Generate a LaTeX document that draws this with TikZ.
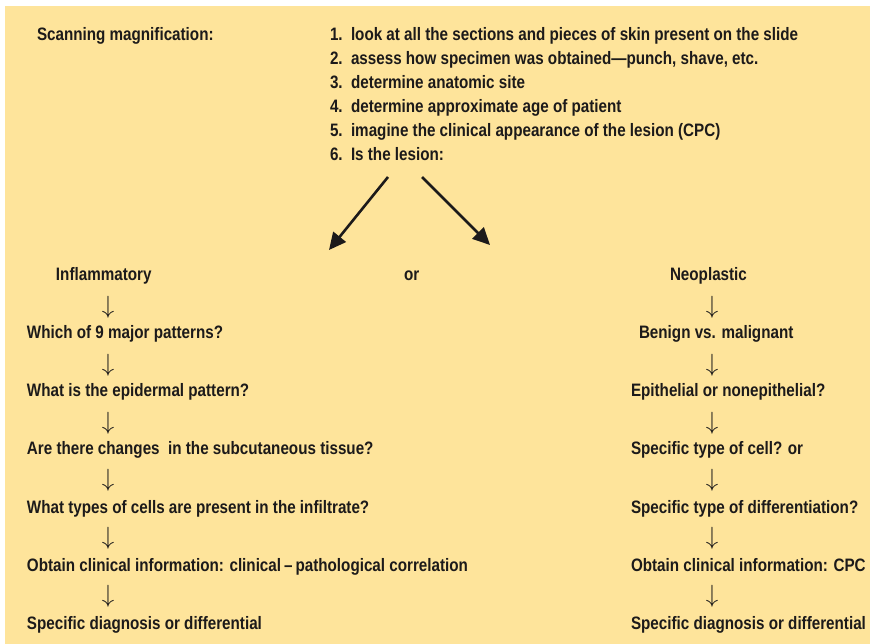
\documentclass[tikz,border=0pt]{standalone}
\usepackage{fontspec}
\setmainfont{Liberation Sans}[FakeStretch=0.845]
\usetikzlibrary{arrows.meta}
\definecolor{bgyellow}{RGB}{254,228,155}
\definecolor{ink}{RGB}{28,26,26}
\tikzset{
  txt/.style={anchor=base west, inner sep=0pt, outer sep=0pt, text=ink, font=\fontsize{18}{21}\selectfont\bfseries},
  down/.style={anchor=center, inner sep=0pt, text=ink, font=\fontsize{23}{26}\selectfont},
  bigarrow/.style={draw=ink, line width=2.6pt, -{Triangle[length=17pt,width=16pt]}}
}
\begin{document}
\begin{tikzpicture}[x=1pt,y=-1pt]
\useasboundingbox (0,0) rectangle (871,644);
\fill[bgyellow] (5,6) rectangle (870,644);
% header
\node[txt] (scan) at (37,41) {Scanning magnification:};
\node[txt] (n1) at (330,41) {1.};
\node[txt] (l1) at (351,41) {look at all the sections and pieces of skin present on the slide};
\node[txt] (n2) at (330,65) {2.};
\node[txt] (l2) at (351,65) {assess how specimen was obtained—punch, shave, etc.};
\node[txt] (n3) at (330,89) {3.};
\node[txt] (l3) at (351,89) {determine anatomic site};
\node[txt] (n4) at (330,113) {4.};
\node[txt] (l4) at (351,113) {determine approximate age of patient};
\node[txt] (n5) at (330,137) {5.};
\node[txt] (l5) at (351,137) {imagine the clinical appearance of the lesion (CPC)};
\node[txt] (n6) at (330,161) {6.};
\node[txt] (l6) at (351,161) {Is the lesion:};
% big arrows
\coordinate (sL) at (388,177);
\coordinate (eL) at (329,250);
\coordinate (sR) at (422,177);
\coordinate (eR) at (490,245);
\draw[bigarrow] (sL) -- (eL);
\draw[bigarrow] (sR) -- (eR);
% left column
\node[txt] (infl) at (56,281) {Inflammatory};
\node[txt] (or) at (404,281) {or};
\node[txt] (neo) at (670,281) {Neoplastic};
\node[down] (da1) at (108,307) {$\downarrow$};
\node[txt] (a1) at (27,339) {Which of 9 major patterns?};
\node[down] (da2) at (108,365) {$\downarrow$};
\node[txt] (a2) at (27,397) {What is the epidermal pattern?};
\node[down] (da3) at (108,423) {$\downarrow$};
\node[txt] (a3) at (27,455) {Are there changes\ \ in the subcutaneous tissue?};
\node[down] (da4) at (108,480) {$\downarrow$};
\node[txt] (a4) at (27,513) {What types of cells are present in the infiltrate?};
\node[down] (da5) at (108,538) {$\downarrow$};
\node[txt] (a5) at (27,571) {Obtain clinical information: clinical\,–\,pathological correlation};
\node[down] (da6) at (108,596) {$\downarrow$};
\node[txt] (a6) at (27,629) {Specific diagnosis or differential};
% right column
\node[down] (db1) at (712,307) {$\downarrow$};
\node[txt] (b1) at (639,339) {Benign vs. malignant};
\node[down] (db2) at (712,365) {$\downarrow$};
\node[txt] (b2) at (631,397) {Epithelial or nonepithelial?};
\node[down] (db3) at (712,423) {$\downarrow$};
\node[txt] (b3) at (631,455) {Specific type of cell? or};
\node[down] (db4) at (712,480) {$\downarrow$};
\node[txt] (b4) at (631,513) {Specific type of differentiation?};
\node[down] (db5) at (712,538) {$\downarrow$};
\node[txt] (b5) at (631,571) {Obtain clinical information: CPC};
\node[down] (db6) at (712,596) {$\downarrow$};
\node[txt] (b6) at (631,629) {Specific diagnosis or differential};
\end{tikzpicture}
\end{document}
